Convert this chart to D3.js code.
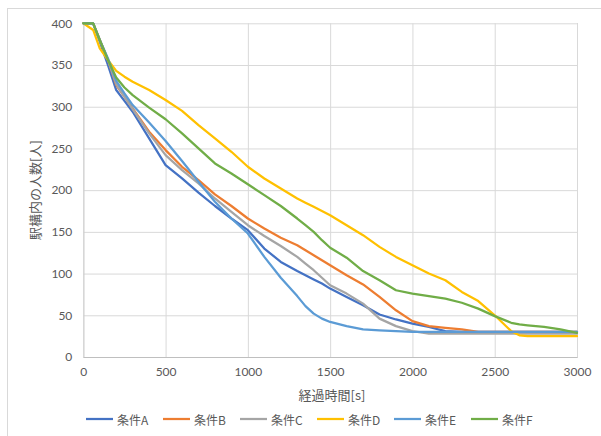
<!DOCTYPE html>
<html>
<head>
<meta charset="utf-8">
<script src="https://cdn.jsdelivr.net/npm/d3@7"></script>
<style>
  html, body { margin: 0; padding: 0; background: #fff; }
  svg { display: block; }
</style>
</head>
<body>
<svg id="chart" width="601" height="436"></svg>
<script>
// Elapsed time [s] at which each series is sampled
const times = [0, 60, 100, 150, 200, 250, 300, 400, 500, 600, 700, 800, 900, 1000, 1100, 1200, 1300,
  1350, 1400, 1450, 1500, 1600, 1700, 1800, 1900, 2000, 2100, 2200, 2300, 2400, 2500, 2600, 2650,
  2700, 2800, 2900, 3000];

// People remaining in the station for each condition
const condA = [400, 400, 378, 350, 320, 307, 294, 262, 230, 214, 197, 181, 166, 152, 130, 114, 103,
  98, 93, 88, 82, 72, 62, 51, 45, 40, 36, 31, 30, 30, 30, 30, 30,
  30, 30, 30, 30];
const condB = [400, 400, 380, 356, 326, 312, 298, 270, 248, 228, 212, 195, 181, 166, 154, 143, 134,
  128, 122, 116, 110, 98, 87, 72, 56, 43, 37, 35, 33, 30, 30, 30, 30,
  30, 30, 30, 30];
const condC = [400, 400, 380, 356, 327, 312, 297, 268, 242, 224, 208, 190, 174, 158, 145, 133, 120,
  112, 104, 95, 86, 76, 64, 46, 37, 31, 28, 28, 28, 28, 28, 28, 28,
  28, 28, 28, 28];
const condD = [400, 392, 370, 356, 343, 336, 330, 320, 308, 295, 278, 262, 246, 228, 214, 202, 190,
  185, 180, 175, 170, 158, 146, 132, 120, 110, 100, 92, 78, 67, 50, 31, 26,
  25, 25, 25, 25];
const condE = [400, 400, 380, 358, 331, 316, 302, 281, 259, 235, 210, 186, 166, 148, 120, 95, 73,
  61, 52, 46, 42, 37, 33, 32, 31, 30, 30, 30, 30, 30, 30, 30, 30,
  30, 30, 30, 30];
const condF = [400, 400, 380, 356, 335, 323, 314, 299, 285, 268, 250, 232, 220, 207, 194, 181, 166,
  158, 150, 140, 131, 119, 103, 92, 80, 76, 73, 70, 65, 58, 49, 41, 39,
  38, 36, 33, 29];

const seriesNames = ["条件A", "条件B", "条件C", "条件D", "条件E", "条件F"];
const seriesValues = [condA, condB, condC, condD, condE, condF];
const seriesColors = ["#4472C4", "#ED7D31", "#A5A5A5", "#FFC000", "#5B9BD5", "#70AD47"];

const xTicks = [0, 500, 1000, 1500, 2000, 2500, 3000];
const yTicks = [0, 50, 100, 150, 200, 250, 300, 350, 400];

const xTitle = "経過時間[s]";
const yTitle = "駅構内の人数[人]";

const svg = d3.select("#chart");
const font = 'Lato, "Noto Sans CJK JP", sans-serif';
const jpFont = '"Noto Sans CJK JP", sans-serif';

// Chart frame
svg.append("rect")
  .attr("x", 7.5).attr("y", 8.5)
  .attr("width", 700).attr("height", 500)
  .attr("fill", "#fff").attr("stroke", "#D9D9D9");

const plot = { left: 83.3, right: 577, top: 23.3, bottom: 357 };

const x = d3.scaleLinear().domain([0, 3000]).range([plot.left, plot.right]);
const y = d3.scaleLinear().domain([0, 400]).range([plot.bottom, plot.top]);

// Horizontal gridlines + y tick labels
const yAxis = svg.append("g")
  .attr("transform", `translate(${plot.left},0)`)
  .call(d3.axisLeft(y).tickValues(yTicks).tickFormat(d3.format("d"))
    .tickSize(-(plot.right - plot.left)).tickPadding(11));
yAxis.select(".domain").remove();
yAxis.selectAll(".tick line").attr("stroke", "#D9D9D9").attr("stroke-width", 1);
yAxis.selectAll(".tick text").attr("font-size", 12).attr("font-family", font).attr("fill", "#595959");

// Vertical gridlines + x tick labels
const xAxis = svg.append("g")
  .attr("transform", `translate(0,${plot.bottom})`)
  .call(d3.axisBottom(x).tickValues(xTicks).tickFormat(d3.format("d"))
    .tickSize(-(plot.bottom - plot.top)).tickPadding(10));
xAxis.select(".domain").attr("stroke", "#BFBFBF");
xAxis.selectAll(".tick line").attr("stroke", "#D9D9D9").attr("stroke-width", 1);
xAxis.selectAll(".tick text").attr("font-size", 12).attr("font-family", font).attr("fill", "#595959");

// Series lines
const line = d3.line()
  .x((d, i) => x(times[i]))
  .y(d => y(d));

svg.append("g")
  .selectAll("path")
  .data(seriesValues)
  .join("path")
  .attr("d", d => line(d))
  .attr("fill", "none")
  .attr("stroke", (d, i) => seriesColors[i])
  .attr("stroke-width", 2.25)
  .attr("stroke-linejoin", "round")
  .attr("stroke-linecap", "round");

// Axis titles
svg.append("text")
  .attr("x", 332).attr("y", 400)
  .attr("text-anchor", "middle")
  .attr("font-family", jpFont).attr("font-size", 13)
  .attr("fill", "#595959")
  .text(xTitle);

svg.append("text")
  .attr("transform", "translate(40,190) rotate(-90)")
  .attr("text-anchor", "middle")
  .attr("font-family", jpFont).attr("font-size", 13)
  .attr("fill", "#595959")
  .text(yTitle);

// Legend
const legend = svg.append("g")
  .selectAll("g")
  .data(seriesNames)
  .join("g")
  .attr("transform", (d, i) => `translate(${86 + i * 77},419)`);
legend.append("line")
  .attr("x1", 0).attr("x2", 27)
  .attr("stroke", (d, i) => seriesColors[i])
  .attr("stroke-width", 2.25);
legend.append("text")
  .attr("x", 31).attr("y", 0)
  .attr("dominant-baseline", "central")
  .attr("font-family", jpFont).attr("font-size", 12)
  .attr("fill", "#595959")
  .text(d => d);
</script>
</body>
</html>
